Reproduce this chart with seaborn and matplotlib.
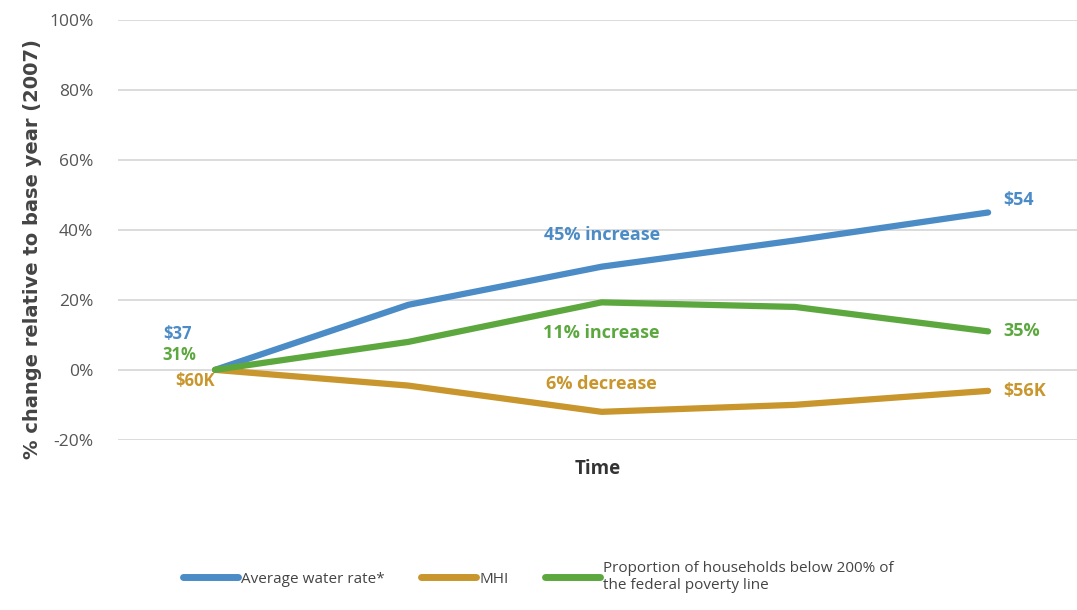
import matplotlib
matplotlib.use("Agg")
import matplotlib.pyplot as plt
from matplotlib.lines import Line2D
from matplotlib.ticker import FuncFormatter
import seaborn as sns
import pandas as pd

# Time steps (no labelled ticks on the x axis)
periods = [0, 1, 2, 3, 4]

# Percent change relative to 2007
water_rate = [0, 18.6, 29.5, 37, 45]
mhi = [0, -4.5, -12, -10, -6]
poverty_share = [0, 8, 19.3, 18, 11]

series_names = ["Average water rate*", "MHI",
                "Proportion of households below 200% of\nthe federal poverty line"]
colors = ["#4b8bc6", "#c8962c", "#5ca83f"]

start_labels = ["$37", "$60K", "31%"]
end_labels = ["$54", "$56K", "35%"]
mid_labels = ["45% increase", "6% decrease", "11% increase"]

y_ticks = [-20, 0, 20, 40, 60, 80, 100]

sns.set_theme(style="white")
plt.rcParams["font.family"] = ["Open Sans", "DejaVu Sans"]

df = pd.DataFrame({
    "period": periods * 3,
    "change": water_rate + mhi + poverty_share,
    "series": sum([[n] * len(periods) for n in series_names], []),
})

fig = plt.figure(figsize=(10.77, 6.10), dpi=100)
ax = fig.add_axes([0.11, 0.279, 0.89, 0.688])

for y in y_ticks:
    ax.axhline(y, color="#d9d9d9", lw=1.3, zorder=0)

sns.lineplot(data=df, x="period", y="change", hue="series",
             palette=dict(zip(series_names, colors)), lw=4.5,
             legend=False, ax=ax, solid_capstyle="round")

ax.set_xlim(-0.5, 4.46)
ax.set_ylim(-20, 100)
ax.set_yticks(y_ticks)
ax.yaxis.set_major_formatter(FuncFormatter(lambda v, _: f"{v:.0f}%"))
ax.tick_params(axis="y", labelsize=12.5, labelcolor="#555555", pad=18, length=0)
ax.set_xticks([])
for s in ax.spines.values():
    s.set_visible(False)

ax.set_ylabel("% change relative to base year (2007)", fontsize=14,
              fontweight="bold", color="#444444",
              family=["DejaVu Sans"])
ax.yaxis.set_label_coords(-0.08, 0.455)
ax.set_xlabel("Time", fontsize=13.5, fontweight="bold", color="#333333", labelpad=14)

lab_kw = dict(fontsize=13, fontweight="bold")
small_kw = dict(fontsize=12, fontweight="bold")
# Start values
ax.text(-0.12, 10.2, start_labels[0], color=colors[0], ha="right", va="center", **small_kw)
ax.text(-0.1, 4.2, start_labels[2], color=colors[2], ha="right", va="center", **small_kw)
ax.text(0.0, -3.2, start_labels[1], color=colors[1], ha="right", va="center", **small_kw)
# End values
ax.text(4.08, 48.5, end_labels[0], color=colors[0], ha="left", va="center", **lab_kw)
ax.text(4.08, 11, end_labels[2], color=colors[2], ha="left", va="center", **lab_kw)
ax.text(4.08, -6, end_labels[1], color=colors[1], ha="left", va="center", **lab_kw)
# Overall change annotations
ax.text(2, 38.5, mid_labels[0], color=colors[0], ha="center", va="center", **lab_kw)
ax.text(2, 10.5, mid_labels[2], color=colors[2], ha="center", va="center", **lab_kw)
ax.text(2, -4, mid_labels[1], color=colors[1], ha="center", va="center", **lab_kw)

handles = [Line2D([0], [0], color=c, lw=5, solid_capstyle="round") for c in colors]
fig.legend(handles, series_names, loc="center", bbox_to_anchor=(0.5, 0.054),
           ncol=3, frameon=False, fontsize=11, handlelength=3.6,
           handletextpad=0.2, columnspacing=2.4, labelcolor="#444444")

fig.savefig("out.png", dpi=100, facecolor="white")
